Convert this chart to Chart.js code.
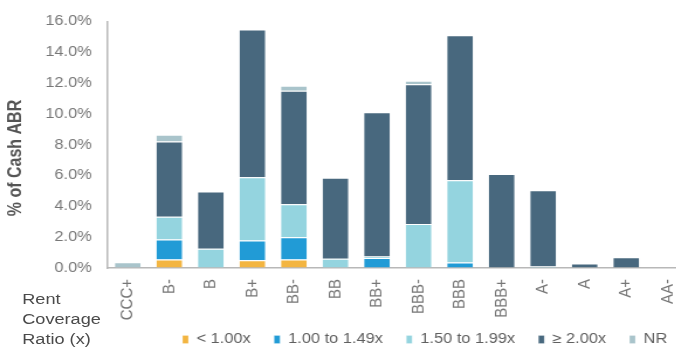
<!DOCTYPE html>
<html>
<head>
<meta charset="utf-8">
<script src="https://cdn.jsdelivr.net/npm/chart.js@4.4.1/dist/chart.umd.min.js"></script>
<style>
    html, body { margin: 0; padding: 0; background: #fff; overflow: hidden; width: 676px; height: 353px; }
    #wrap { position: absolute; left: 0; top: 0; width: 600px; height: 353px; transform: scaleX(1.17); transform-origin: 0 0; }
    #side { position: absolute; left: 19px; top: 289px; font: 15.5px/20px "Liberation Sans", Arial, sans-serif; color: #4a4a4a; }
</style>
</head>
<body>
<div id="wrap">
    <canvas id="chartCanvas"></canvas>
    <div id="side">Rent<br>Coverage<br>Ratio (x)</div>
</div>
<script>
// ratings and % of cash ABR per rent coverage bucket
const categories = ["CCC+", "B-", "B", "B+", "BB-", "BB", "BB+", "BBB-", "BBB", "BBB+", "A-", "A", "A+", "AA-"];
const below100 = [0, 0.55, 0, 0.51, 0.55, 0, 0, 0, 0, 0, 0, 0, 0, 0];
const from100to149 = [0, 1.30, 0, 1.27, 1.45, 0, 0.65, 0, 0.35, 0, 0, 0, 0, 0];
const from150to199 = [0, 1.48, 1.25, 4.10, 2.14, 0.60, 0.10, 2.85, 5.35, 0, 0.10, 0, 0, 0];
const atLeast200 = [0, 4.87, 3.72, 9.60, 7.36, 5.26, 9.35, 9.08, 9.40, 6.10, 4.95, 0.30, 0.70, 0];
const notRated = [0.38, 0.44, 0, 0, 0.33, 0, 0, 0.22, 0, 0, 0, 0, 0, 0];
const seriesNames = ["< 1.00x", "1.00 to 1.49x", "1.50 to 1.99x", "\u2265 2.00x", "NR"];
const yTicks = [0, 2, 4, 6, 8, 10, 12, 14, 16];

const colors = ["#f3b541", "#219bd6", "#94d4df", "#48687e", "#a9c4cb"];

Chart.defaults.font.family = "'Liberation Sans', Arial, sans-serif";

// put the legend where the original had it
const legendPlace = {
    id: "legendPlace",
    afterLayout: function(chart) {
        let lg = chart.legend;
        lg.left = 136;
        lg.right = 760;
        lg.top = 312.5;
    }
};

document.addEventListener("DOMContentLoaded", function() {
    let series = [below100, from100to149, from150to199, atLeast200, notRated];
    let datasets = series.map(function(values, i) {
        return {
            label: seriesNames[i],
            data: values,
            backgroundColor: colors[i],
            borderColor: "#ffffff",
            borderWidth: {top: 1, right: 0, bottom: 0, left: 0},
            borderSkipped: "start",
            barPercentage: 0.62,
            categoryPercentage: 1.0
        };
    });

    let context = document.querySelector("#chartCanvas").getContext("2d");
    new Chart(context, {
        type: "bar",
        data: {
            labels: categories,
            datasets: datasets
        },
        plugins: [legendPlace],
        options: {
            responsive: true,
            maintainAspectRatio: false,
            animation: false,
            layout: {
                padding: {top: 16.5, right: 7.3, bottom: -14, left: 0}
            },
            plugins: {
                tooltip: {enabled: false},
                legend: {
                    display: true,
                    position: "bottom",
                    align: "start",
                    labels: {
                        boxWidth: 5,
                        boxHeight: 8,
                        padding: 20,
                        color: "#5f5f5f",
                        font: {size: 14}
                    }
                }
            },
            scales: {
                x: {
                    stacked: true,
                    grid: {display: true, drawOnChartArea: false, drawTicks: false},
                    border: {display: true, color: "#b8b8b8", width: 1.5},
                    ticks: {
                        autoSkip: false,
                        maxRotation: 90,
                        minRotation: 90,
                        padding: 11,
                        color: "#777777",
                        font: {size: 15}
                    },
                    afterFit: function(scale) {
                        scale.height = 55;
                    }
                },
                y: {
                    stacked: true,
                    min: 0,
                    max: 16,
                    afterBuildTicks: function(scale) {
                        scale.ticks = yTicks.map(function(v) { return {value: v}; });
                    },
                    grid: {display: true, drawOnChartArea: false, drawTicks: false},
                    border: {display: true, color: "#b8b8b8", width: 1.5},
                    ticks: {
                        padding: 13,
                        color: "#777777",
                        font: {size: 14},
                        callback: function(value) {
                            return value.toFixed(1) + "%";
                        }
                    },
                    title: {
                        display: true,
                        text: "% of Cash ABR" + "\u00a0".repeat(6),
                        color: "#555555",
                        font: {size: 16, weight: "bold"}
                    },
                    afterFit: function(scale) {
                        scale.width = 91.45;
                    }
                }
            }
        }
    });
});
</script>
</body>
</html>
